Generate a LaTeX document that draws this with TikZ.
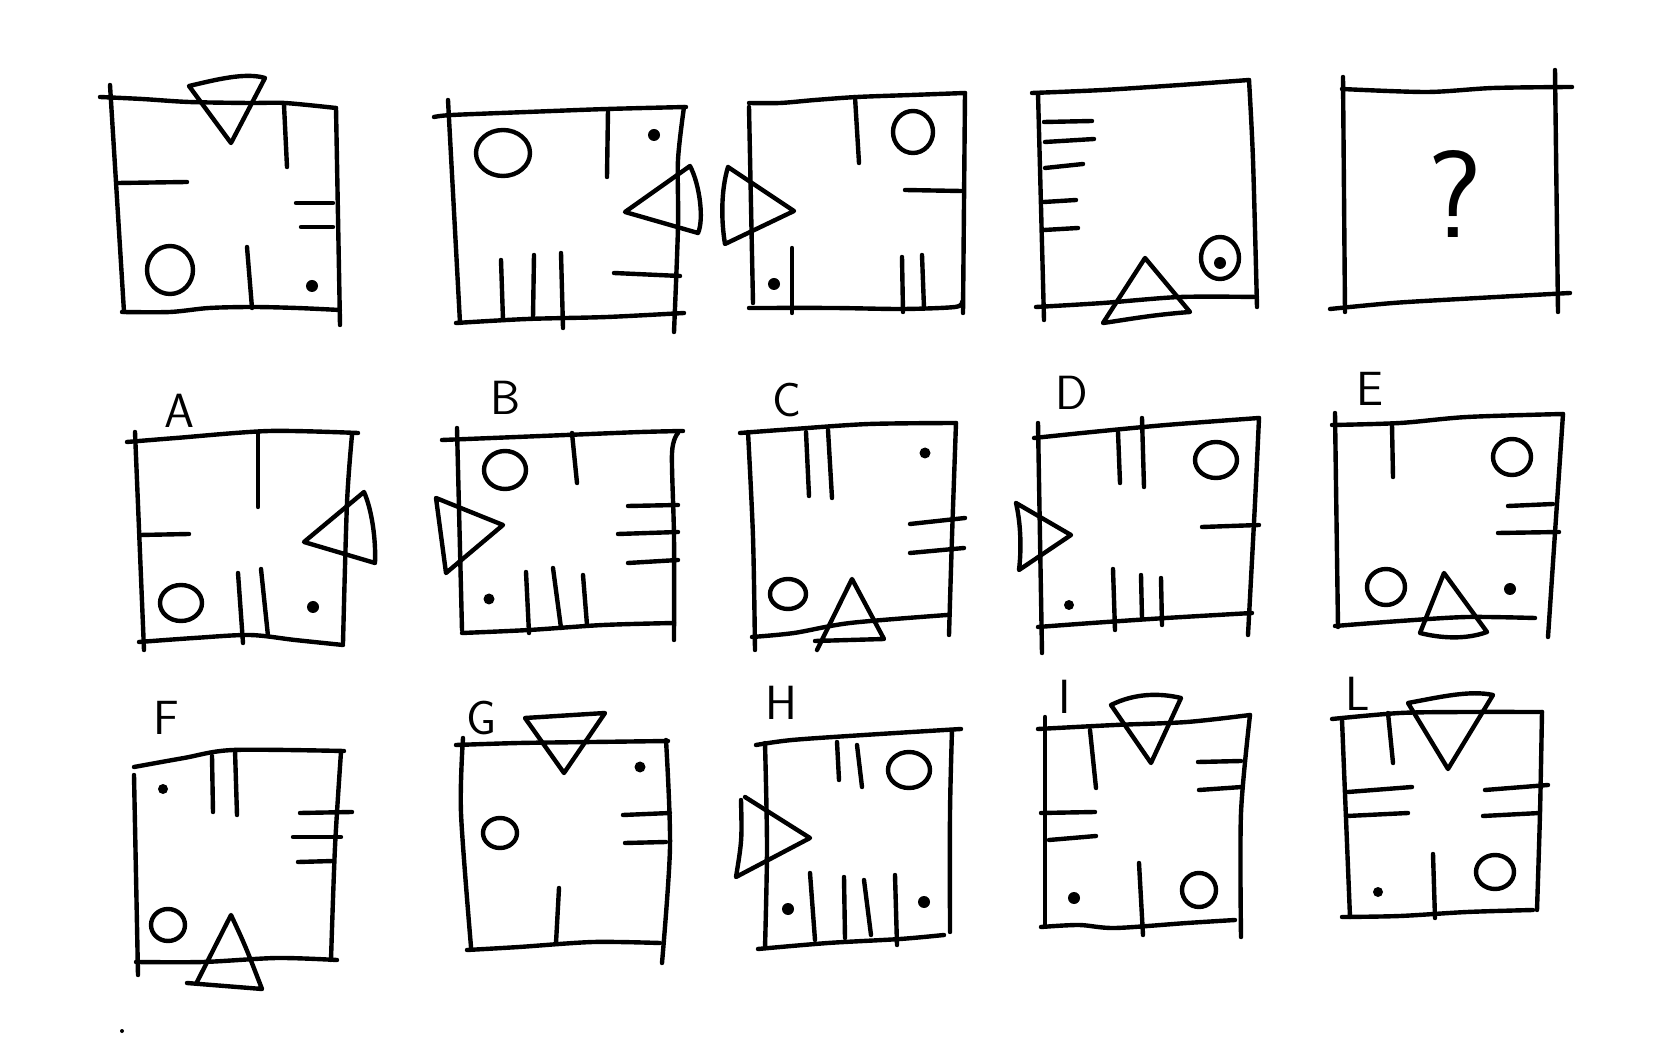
\documentclass[tikz,border=0pt]{standalone}
\usepackage{fontspec}
\begin{document}
\begin{tikzpicture}[x=0.5pt,y=-0.5pt,
  pen/.style={line width=2.2pt,line cap=round,line join=round},
  lab/.style={inner sep=0pt,font=\fontsize{24}{24}\selectfont\sffamily},
  qm/.style={inner sep=0pt,font=\fontsize{62}{62}\selectfont\sffamily}]
\fill[white] (0,0) rectangle (1666,1063);
\useasboundingbox (0,0) rectangle (1666,1063);
% ---------- Panel 1
\draw[pen] plot[smooth] coordinates {(100,97)(142,99)(189,102)(249,103)(285,103)(336,108)};
\draw[pen] (110,85) -- (124,312);
\draw[pen] plot[smooth] coordinates {(122,312)(170,312)(209,308)(253,307)(297,308)(340,310)};
\draw[pen] (336,108) -- (340,325);
\draw[pen] (189,86) .. controls (215,80) and (245,72) .. (265,78) -- (231,143) -- cycle;
\draw[pen] (284,105) -- (287,167);
\draw[pen] (118,183) -- (187,182);
\draw[pen] (296,203) -- (333,203);
\draw[pen] (301,227) -- (333,227);
\draw[pen] (170,270) ellipse [x radius=23, y radius=24];
\draw[pen] (247,247) -- (252,308);
\fill (312,286) circle (6);
% ---------- Panel 2
\draw[pen] plot[smooth] coordinates {(434,117)(452,115)(527,112)(607,109)(686,107)};
\draw[pen] (448,100) -- (460,323);
\draw[pen] plot[smooth] coordinates {(456,323)(527,319)(607,317)(684,313)};
\draw[pen] plot[smooth] coordinates {(684,107)(678,160)(678,227)(674,332)};
\draw[pen] (503,153) ellipse [x radius=27, y radius=23];
\draw[pen] (608,110) -- (607,177);
\fill (654,135) circle (6);
\draw[pen] (625,212) -- (690,166) .. controls (700,185) and (704,220) .. (698,233) -- cycle;
\draw[pen] (501,260) -- (503,320);
\draw[pen] (534,255) -- (533,318);
\draw[pen] (561,253) -- (563,328);
\draw[pen] (614,273) -- (680,276);
% ---------- Panel 3
\draw[pen] plot[smooth] coordinates {(749,103)(780,103)(815,100)(857,97)(911,95)(965,93)};
\draw[pen] (749,107) -- (753,303);
\draw[pen] plot[smooth] coordinates {(749,308)(834,308)(903,309)(955,307)(962,302)};
\draw[pen] (965,93) -- (963,313);
\draw[pen] (855,97) -- (859,163);
\draw[pen] (913,132) ellipse [x radius=20, y radius=21];
\draw[pen] (905,190) -- (961,191);
\draw[pen] (728,167) -- (794,211) -- (725,244) .. controls (721,220) and (721,190) .. (728,167);
\fill (774,284) circle (6);
\draw[pen] (792,248) -- (792,313);
\draw[pen] (902,257) -- (903,312);
\draw[pen] (922,255) -- (924,308);
% ---------- Panel 4
\draw[pen] plot[smooth] coordinates {(1032,93)(1103,90)(1180,85)(1249,80)};
\draw[pen] (1038,93) -- (1044,320);
\draw[pen] plot[smooth] coordinates {(1036,307)(1103,303)(1180,297)(1257,297)};
\draw[pen] plot[smooth] coordinates {(1249,80)(1253,160)(1257,307)};
\draw[pen] (1044,122) -- (1092,121);
\draw[pen] (1045,142) -- (1094,139);
\draw[pen] (1045,168) -- (1083,164);
\draw[pen] (1044,202) -- (1076,200);
\draw[pen] (1044,230) -- (1078,228);
\draw[pen] (1145,258) -- (1190,312) .. controls (1150,315) and (1125,320) .. (1103,323) -- cycle;
\draw[pen] (1220,258) ellipse [x radius=19, y radius=21];
\fill (1220,263) circle (6);
% ---------- Panel 5
\draw[pen] plot[smooth] coordinates {(1342,89)(1427,92)(1493,88)(1572,87)};
\draw[pen] (1343,77) -- (1345,312);
\draw[pen] plot[smooth] coordinates {(1330,309)(1393,303)(1460,299)(1570,293)};
\draw[pen] (1555,70) -- (1558,312);
\node[qm] (q) at (1455,194) {?};
% ---------- A
\node[lab] (la) at (179,411) {A};
\draw[pen] plot[smooth] coordinates {(127,442)(176,438)(269,431)(358,433)};
\draw[pen] (135,432) -- (144,650);
\draw[pen] plot[smooth] coordinates {(139,642)(194,638)(250,635)(295,640)(343,645)};
\draw[pen] plot[smooth] coordinates {(352,435)(347,503)(343,643)};
\draw[pen] (258,432) -- (258,507);
\draw[pen] (140,535) -- (189,534);
\draw[pen] (304,542) -- (364,492) .. controls (372,510) and (376,540) .. (375,563) -- cycle;
\draw[pen] (181,603) ellipse [x radius=21, y radius=18];
\draw[pen] (238,573) -- (243,643);
\draw[pen] (261,569) -- (268,636);
\fill (313,607) circle (6);
% ---------- B
\node[lab] (lb) at (506,398) {B};
\draw[pen] plot[smooth] coordinates {(442,440)(492,438)(566,435)(641,432)(683,431)};
\draw[pen] (457,428) -- (462,630);
\draw[pen] plot[smooth] coordinates {(462,633)(529,630)(603,625)(674,623)};
\draw[pen] plot[smooth] coordinates {(678,433)(672,453)(674,537)(674,640)};
\draw[pen] (505,470) ellipse [x radius=21, y radius=19];
\draw[pen] (572,433) -- (577,483);
\draw[pen] (436,498) -- (503,525) -- (446,573) -- cycle;
\draw[pen] (628,506) -- (678,505);
\draw[pen] (618,534) -- (678,532);
\draw[pen] (628,563) -- (678,560);
\draw[pen] (526,572) -- (529,633);
\draw[pen] (553,568) -- (561,628);
\draw[pen] (583,575) -- (587,625);
\fill (489,599) circle (5.5);
% ---------- C
\node[lab] (lc) at (787,400) {C};
\draw[pen] plot[smooth] coordinates {(740,433)(794,429)(869,424)(956,423)};
\draw[pen] plot[smooth] coordinates {(748,432)(753,537)(755,650)};
\draw[pen] plot[smooth] coordinates {(752,637)(794,633)(850,623)(947,615)};
\draw[pen] plot[smooth] coordinates {(956,423)(952,537)(949,635)};
\draw[pen] (806,432) -- (809,496);
\draw[pen] (828,430) -- (832,498);
\fill (925,453) circle (5.5);
\draw[pen] (910,524) -- (965,518);
\draw[pen] (910,553) -- (964,548);
\draw[pen] (788,594) ellipse [x radius=18, y radius=15];
\draw[pen] (817,650) -- (852,579) -- (884,639) -- (815,641);
% ---------- D
\node[lab] (ld) at (1072,393) {D};
\draw[pen] plot[smooth] coordinates {(1034,438)(1092,432)(1166,425)(1259,418)};
\draw[pen] (1038,423) -- (1042,653);
\draw[pen] plot[smooth] coordinates {(1038,627)(1092,623)(1166,618)(1252,613)};
\draw[pen] plot[smooth] coordinates {(1259,418)(1255,503)(1248,635)};
\draw[pen] (1118,432) -- (1120,483);
\draw[pen] (1142,418) -- (1144,487);
\draw[pen] (1216,460) ellipse [x radius=21, y radius=18];
\draw[pen] (1202,527) -- (1259,525);
\draw[pen] (1016,503) -- (1071,535) -- (1019,570) .. controls (1022,545) and (1020,520) .. (1016,503);
\fill (1069,605) circle (5);
\draw[pen] (1113,569) -- (1115,630);
\draw[pen] (1141,575) -- (1142,618);
\draw[pen] (1161,578) -- (1162,625);
% ---------- E
\node[lab] (le) at (1370,389) {E};
\draw[pen] plot[smooth] coordinates {(1332,425)(1400,423)(1467,417)(1563,414)};
\draw[pen] (1335,413) -- (1338,627);
\draw[pen] plot[smooth] coordinates {(1335,626)(1400,621)(1467,617)(1535,618)};
\draw[pen] plot[smooth] coordinates {(1563,414)(1557,503)(1548,637)};
\draw[pen] (1392,425) -- (1393,477);
\draw[pen] (1512,457) ellipse [x radius=19, y radius=18];
\draw[pen] (1508,506) -- (1553,504);
\draw[pen] (1498,533) -- (1559,532);
\draw[pen] (1386,587) ellipse [x radius=19, y radius=18];
\draw[pen] (1444,573) -- (1487,632) .. controls (1465,640) and (1440,638) .. (1420,633) -- cycle;
\fill (1510,589) circle (6);
% ---------- F
\node[lab] (lf) at (166,718) {F};
\draw[pen] plot[smooth] coordinates {(134,767)(184,758)(233,750)(344,751)};
\draw[pen] (134,775) -- (138,975);
\draw[pen] plot[smooth] coordinates {(136,962)(203,962)(277,958)(337,960)};
\draw[pen] plot[smooth] coordinates {(341,752)(335,847)(331,960)};
\draw[pen] (212,756) -- (213,812);
\draw[pen] (235,750) -- (237,815);
\fill (163,789) circle (5);
\draw[pen] (300,813) -- (352,812);
\draw[pen] (293,837) -- (341,837);
\draw[pen] (298,862) -- (333,861);
\draw[pen] (168,925) ellipse [x radius=17, y radius=16];
\draw[pen] (197,982) -- (231,915) .. controls (245,945) .. (262,989) -- (187,983);
% ---------- G
\node[lab] (lg) at (482,718) {G};
\draw[pen] plot[smooth] coordinates {(456,745)(519,743)(593,742)(668,741)};
\draw[pen] plot[smooth] coordinates {(463,738)(461,813)(471,947)};
\draw[pen] plot[smooth] coordinates {(467,950)(519,947)(593,942)(660,943)};
\draw[pen] plot[smooth] coordinates {(666,740)(670,847)(662,963)};
\draw[pen] (525,718) -- (605,713) -- (564,773) -- cycle;
\fill (640,767) circle (5.5);
\draw[pen] (500,833) ellipse [x radius=17, y radius=15];
\draw[pen] (623,815) -- (670,813);
\draw[pen] (625,843) -- (666,842);
\draw[pen] (559,888) -- (556,943);
% ---------- H
\node[lab] (lh) at (781,703) {H};
\draw[pen] plot[smooth] coordinates {(756,745)(792,740)(864,735)(961,729)};
\draw[pen] plot[smooth] coordinates {(765,743)(767,847)(765,948)};
\draw[pen] plot[smooth] coordinates {(758,949)(828,943)(900,939)(944,935)};
\draw[pen] plot[smooth] coordinates {(952,730)(950,813)(950,932)};
\draw[pen] (837,742) -- (839,780);
\draw[pen] (857,745) -- (862,787);
\draw[pen] (909,770) ellipse [x radius=21, y radius=18];
\draw[pen] (745,797) -- (810,838) -- (736,877) .. controls (742,840) .. (741,800);
\fill (788,909) circle (6);
\fill (924,902) circle (6);
\draw[pen] (810,873) -- (815,940);
\draw[pen] (844,877) -- (845,938);
\draw[pen] (864,880) -- (871,935);
\draw[pen] (895,875) -- (897,945);
% ---------- I
\node[lab] (li) at (1065,697) {I};
\draw[pen] plot[smooth] coordinates {(1038,729)(1115,725)(1187,722)(1250,715)};
\draw[pen] (1045,717) -- (1045,925);
\draw[pen] plot[smooth] coordinates {(1041,927)(1079,925)(1115,928)(1187,923)(1235,920)};
\draw[pen] plot[smooth] coordinates {(1250,715)(1241,813)(1241,937)};
\draw[pen] (1111,705) .. controls (1135,693) and (1160,693) .. (1181,698) -- (1151,763) -- cycle;
\draw[pen] (1090,730) -- (1096,788);
\draw[pen] (1198,762) -- (1241,761);
\draw[pen] (1199,790) -- (1242,787);
\draw[pen] (1041,813) -- (1095,812);
\draw[pen] (1049,840) -- (1096,836);
\fill (1074,898) circle (6);
\draw[pen] (1139,863) -- (1143,935);
\draw[pen] (1199,890) ellipse [x radius=17, y radius=17];
% ---------- L
\node[lab] (ll) at (1358,694) {L};
\draw[pen] plot[smooth] coordinates {(1332,719)(1400,713)(1467,712)(1542,712)};
\draw[pen] (1342,720) -- (1350,917);
\draw[pen] plot[smooth] coordinates {(1342,917)(1400,916)(1467,912)(1533,910)};
\draw[pen] plot[smooth] coordinates {(1542,712)(1540,813)(1537,910)};
\draw[pen] (1408,703) .. controls (1440,697) and (1470,690) .. (1493,695) -- (1448,769) -- cycle;
\draw[pen] (1388,713) -- (1393,763);
\draw[pen] (1348,792) -- (1412,787);
\draw[pen] (1347,816) -- (1408,813);
\draw[pen] (1485,790) -- (1548,785);
\draw[pen] (1483,816) -- (1540,813);
\draw[pen] (1433,854) -- (1435,918);
\fill (1378,892) circle (5);
\draw[pen] (1495,872) ellipse [x radius=19, y radius=17];
% stray speck
\fill (122,1031) circle (2);
\end{tikzpicture}
\end{document}
